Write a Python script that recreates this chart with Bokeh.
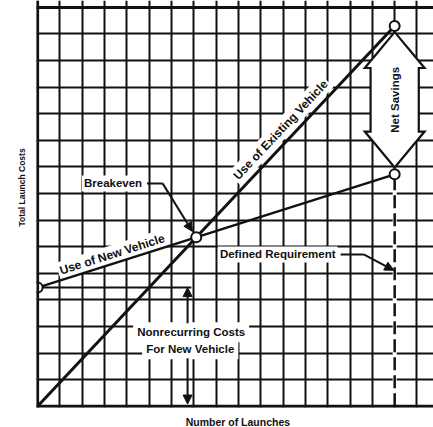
import math
from bokeh.plotting import figure
from bokeh.models import FixedTicker, Span, Arrow, NormalHead, Range1d
from bokeh.core.properties import value
from bokeh.embed import file_html
from bokeh.resources import INLINE

# ---- data (grid units) ----
launch_points = [0, 16]
existing_costs = [0.0, 14.3]
new_costs = [4.46, 8.72]
requirement_launches = 16
x_grid_ticks = list(range(0, 19))
y_grid_ticks = list(range(0, 16))

labels_text = {
    "breakeven": "Breakeven",
    "new": "Use of New Vehicle",
    "existing": "Use of Existing Vehicle",
    "defined": "Defined Requirement",
    "nonrec1": "Nonrecurring Costs",
    "nonrec2": "For New Vehicle",
    "savings": "Net Savings",
}

# derived
e_slope = (existing_costs[1] - existing_costs[0]) / (launch_points[1] - launch_points[0])
n_slope = (new_costs[1] - new_costs[0]) / (launch_points[1] - launch_points[0])
x_b = (new_costs[0] - existing_costs[0]) / (e_slope - n_slope)
y_b = existing_costs[0] + e_slope * x_b

FW, FH = 397, 407
XR = (-0.05, 17.74)
YR = (-0.05, 15.26)
p = figure(frame_width=FW, frame_height=FH, x_range=Range1d(*XR), y_range=Range1d(*YR),
           output_backend="svg", toolbar_location=None,
           min_border_left=36, min_border_right=0, min_border_top=0, min_border_bottom=20)
p.background_fill_color = "white"
p.border_fill_color = "white"
p.outline_line_color = None

FONT = value("Liberation Sans")

# grid
p.xgrid.ticker = FixedTicker(ticks=x_grid_ticks)
p.ygrid.ticker = FixedTicker(ticks=y_grid_ticks)
for g in (p.xgrid, p.ygrid):
    g.grid_line_color = "#111111"
    g.grid_line_width = 2
    g.grid_line_alpha = 1

# axes: only labels
for ax in (p.xaxis, p.yaxis):
    ax.ticker = FixedTicker(ticks=[])
    ax.axis_line_color = None
    ax.major_tick_line_color = None
    ax.minor_tick_line_color = None
    ax.major_tick_out = 0
    ax.major_tick_in = 0
    ax.minor_tick_out = 0
    ax.minor_tick_in = 0
    ax.major_label_standoff = 0
    ax.major_label_text_font_size = "0px"
    ax.axis_label_text_font = "Liberation Sans"
    ax.axis_label_text_font_style = "bold"
    ax.axis_label_text_color = "#111111"
p.xaxis.axis_label = "\u00a0" * 2 + "Number of Launches"
p.xaxis.axis_label_text_font_size = "10.5px"
p.xaxis.axis_label_standoff = 8
p.yaxis.axis_label = "\u00a0" * 14 + "Total Launch Costs"
p.yaxis.axis_label_text_font_size = "8.5px"
p.yaxis.axis_label_standoff = 10

# borders
p.add_layout(Span(location=0, dimension="height", line_color="#111111", line_width=3))
p.add_layout(Span(location=0, dimension="width", line_color="#111111", line_width=3))
p.add_layout(Span(location=15, dimension="width", line_color="#111111", line_width=3))

# pixel scales (for text angles)
sx = FW / (XR[1] - XR[0])
sy = FH / (YR[1] - YR[0])
ang_new = math.atan(n_slope * sy / sx)
ang_ex = math.atan(e_slope * sy / sx)

TXT = dict(text_font=FONT, text_font_style="bold", text_color="#111111",
           text_align="center", text_baseline="middle",
           background_fill_color="white", padding=2)

# labels with white backgrounds (drawn before lines)
xn = 3.34
p.text(x=[xn], y=[new_costs[0] + n_slope * xn + 0.36], text=[labels_text["new"]],
       angle=ang_new, text_font_size="12px", **TXT)
xe = 10.89
p.text(x=[xe], y=[e_slope * xe + 0.66], text=[labels_text["existing"]],
       angle=ang_ex, text_font_size="12px", **TXT)
p.text(x=[3.38], y=[8.38], text=[labels_text["breakeven"]], text_font_size="11.5px", **TXT)
p.text(x=[10.76], y=[5.71], text=[labels_text["defined"]], text_font_size="11.5px", **TXT)
NR = dict(text_font=FONT, text_font_style="bold", text_color="#111111", text_align="center",
          text_baseline="middle", background_fill_color="white", padding=4,
          text_font_size="11.5px")
p.text(x=[6.88], y=[2.78], text=[labels_text["nonrec1"]], **NR)
p.text(x=[6.84], y=[2.14], text=[labels_text["nonrec2"]], **NR)

# dashed requirement line
p.line([requirement_launches] * 2, [0, new_costs[1] - 0.2], line_color="white", line_width=4)
p.line([requirement_launches] * 2, [0, new_costs[1] - 0.2], line_color="#111111",
       line_width=2.5, line_dash="13 5")

# main lines
p.line(launch_points, existing_costs, line_color="#111111", line_width=3)
p.line(launch_points, new_costs, line_color="#111111", line_width=2.5)

HEAD = dict(size=9, fill_color="#111111", line_color="#111111")
# nonrecurring bracket
p.line([launch_points[0], 6.89], [new_costs[0]] * 2, line_color="#111111", line_width=2)
p.add_layout(Arrow(end=NormalHead(**HEAD), x_start=6.72, y_start=3.12, x_end=6.72,
                   y_end=new_costs[0], line_color="#111111", line_width=2))
p.add_layout(Arrow(end=NormalHead(**HEAD), x_start=6.72, y_start=1.8, x_end=6.72,
                   y_end=0.08, line_color="#111111", line_width=2))

# breakeven leader
p.line([4.9, 5.6], [8.38, 8.38], line_color="#111111", line_width=2)
p.add_layout(Arrow(end=NormalHead(**HEAD), x_start=5.6, y_start=8.38,
                   x_end=x_b - 0.17, y_end=y_b + 0.22, line_color="#111111", line_width=2))

# defined requirement leader
p.line([13.58, 14.61], [5.71, 5.71], line_color="#111111", line_width=2)
p.add_layout(Arrow(end=NormalHead(**HEAD), x_start=14.61, y_start=5.71,
                   x_end=requirement_launches - 0.04, y_end=5.11,
                   line_color="#111111", line_width=2))

# net savings double arrow
top = existing_costs[1] - 0.23
bot = new_costs[1] + 0.26
hw_head = 1.34
hw_shaft = 1.08
hl = 1.35
cx = requirement_launches
px_ = [cx, cx + hw_head, cx + hw_shaft, cx + hw_shaft, cx + hw_head, cx,
       cx - hw_head, cx - hw_shaft, cx - hw_shaft, cx - hw_head]
py_ = [top, top - hl, top - hl, bot + hl, bot + hl, bot,
       bot + hl, bot + hl, top - hl, top - hl]
p.patch(px_, py_, fill_color="white", line_color="#111111", line_width=2.2, line_join="miter")
p.text(x=[cx], y=[(top + bot) / 2], text=[labels_text["savings"]], angle=math.pi / 2,
       text_font=FONT, text_font_style="bold", text_font_size="11.5px", text_color="#111111",
       text_align="center", text_baseline="middle")

# circles
p.scatter([launch_points[0], x_b, requirement_launches, requirement_launches],
          [new_costs[0], y_b, existing_costs[1], new_costs[1]],
          size=10, fill_color="white", line_color="#111111", line_width=2)

open("out.html", "w").write(file_html(p, INLINE))
